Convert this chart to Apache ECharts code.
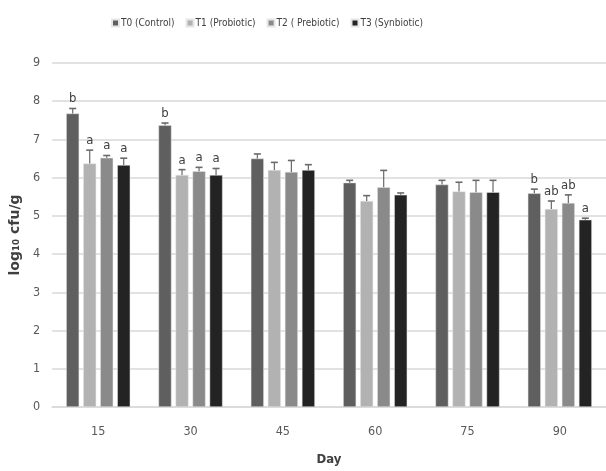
<!DOCTYPE html>
<html><head><meta charset="utf-8">
<script src="https://cdn.jsdelivr.net/npm/echarts@6/dist/echarts.min.js"></script>
<style>html,body{margin:0;padding:0;background:#fff}#c{width:606px;height:471px}</style>
</head><body><div id="c"></div>
<script>
var days = ['15','30','45','60','75','90'];
var seriesNames = ['T0 (Control)','T1 (Probiotic)','T2 ( Prebiotic)','T3 (Synbiotic)'];
var t0 = [7.68, 7.37, 6.50, 5.87, 5.82, 5.59];
var t1 = [6.37, 6.07, 6.20, 5.39, 5.64, 5.18];
var t2 = [6.52, 6.17, 6.15, 5.75, 5.62, 5.34];
var t3 = [6.33, 6.07, 6.20, 5.55, 5.62, 4.90];
var e0 = [0.13, 0.06, 0.12, 0.06, 0.11, 0.11];
var e1 = [0.35, 0.14, 0.20, 0.14, 0.24, 0.21];
var e2 = [0.06, 0.10, 0.30, 0.44, 0.31, 0.21];
var e3 = [0.18, 0.17, 0.14, 0.05, 0.31, 0.04];
var l0 = ['b','b','','','','b'];
var l1 = ['a','a','','','','ab'];
var l2 = ['a','a','','','','ab'];
var l3 = ['a','a','','','','a'];
var colors = ['#5f5f5f','#b2b2b2','#8a8a8a','#232323'];

var vals = [t0,t1,t2,t3], errs=[e0,e1,e2,e3], labs=[l0,l1,l2,l3];
var FONT = '"DejaVu Sans Condensed", "DejaVu Sans", sans-serif';
var series = [];
seriesNames.forEach(function(n,i){
  series.push({name:n,type:'bar',data:vals[i],barWidth:13,barGap:'31%',
    itemStyle:{color:colors[i],borderColor:'#e6e6e6',borderWidth:0.5}});
});
var edata=[];
for(var i=0;i<4;i++) for(var j=0;j<days.length;j++) edata.push([j,vals[i][j],errs[i][j],i,labs[i][j]]);
series.push({type:'custom',data:edata,z:5,silent:true,
  renderItem:function(params,api){
    var cat=api.value(0), v=api.value(1), e=api.value(2), s=api.value(3);
    var lab=edata[params.dataIndex][4];
    var p0=api.coord([cat,v]), p1=api.coord([cat,v+e]);
    var x=p0[0]+(s-1.5)*17;
    var ch=[
      {type:'line',shape:{x1:x,y1:p0[1],x2:x,y2:p1[1]},style:{stroke:'#6a6a6a',lineWidth:1.2}},
      {type:'line',shape:{x1:x-3.5,y1:p1[1],x2:x+3.5,y2:p1[1]},style:{stroke:'#6a6a6a',lineWidth:1.6}}
    ];
    if(lab){ch.push({type:'text',style:{text:lab,x:x,y:p1[1]-3,textAlign:'center',textVerticalAlign:'bottom',fill:'#404040',font:'13px '+FONT}});}
    return {type:'group',children:ch};
  }});

var chart=echarts.init(document.getElementById('c'));
chart.setOption({
  animation:false,
  textStyle:{fontFamily:FONT},
  legend:{top:13,left:106,itemWidth:7,itemHeight:7,itemGap:11,icon:'rect',data:seriesNames,
    textStyle:{fontSize:10,color:'#404040',fontFamily:FONT,padding:[0,0,0,-3]}},
  grid:{left:45,right:0,top:63,bottom:63},
  xAxis:{type:'category',data:days,axisTick:{show:false},
    axisLine:{lineStyle:{color:'#d9d9d9',width:1.5}},
    axisLabel:{color:'#595959',fontSize:12.5,margin:18},
    name:'Day',nameLocation:'middle',nameGap:46,
    nameTextStyle:{fontWeight:'bold',fontSize:13,color:'#404040'}},
  yAxis:{type:'value',min:0,max:9,interval:1,
    axisLabel:{color:'#595959',fontSize:12.5,margin:12},
    splitLine:{lineStyle:{color:'#d9d9d9',width:1.5}},
    name:'log₁₀ cfu/g',nameLocation:'middle',nameGap:22,
    nameTextStyle:{fontWeight:'bold',fontSize:14,color:'#404040',fontFamily:'DejaVu Sans'}},
  series:series
});
</script></body></html>
